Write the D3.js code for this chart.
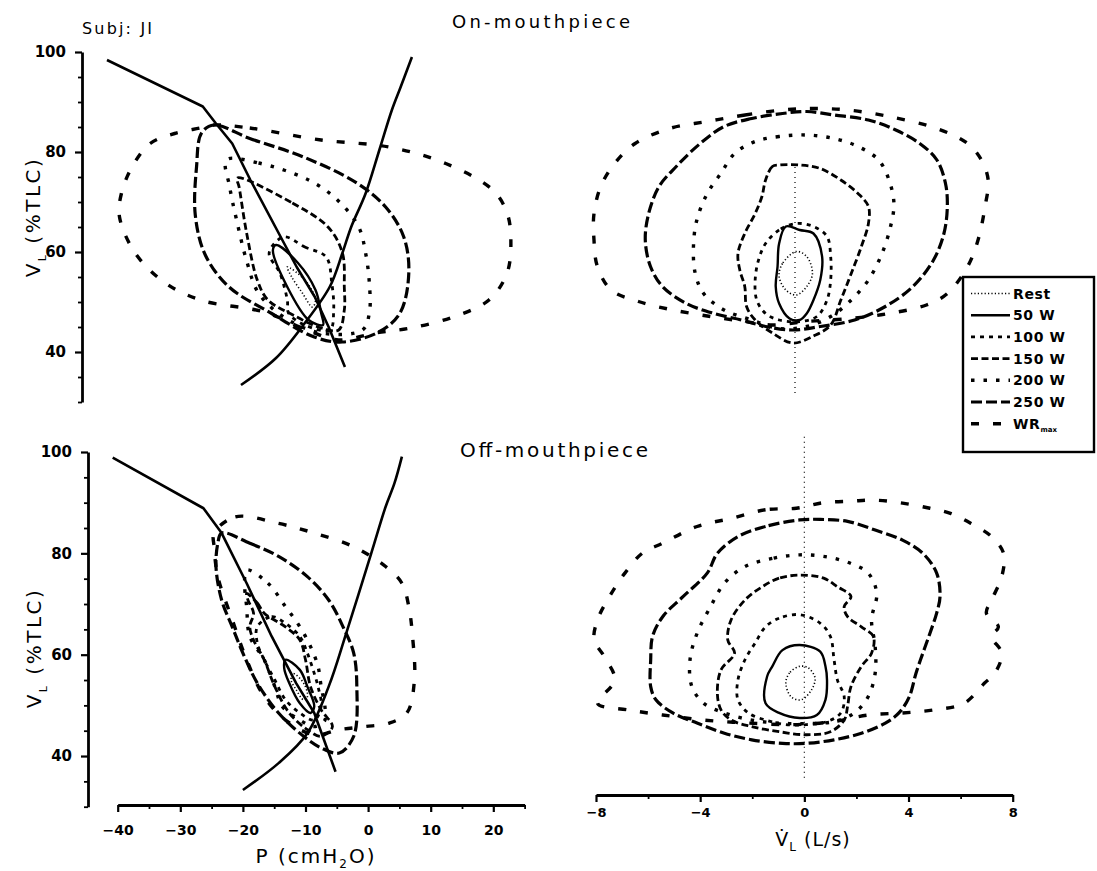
<!DOCTYPE html>
<html><head><meta charset="utf-8">
<script src="https://cdn.jsdelivr.net/npm/d3@7"></script>
<style>
body{margin:0;background:#fff;}
svg{display:block;background:#fff;}
text{fill:#000;}
</style></head><body>
<svg id="chart" width="1097" height="871"></svg>
<script>
// ---------- data ----------
const seriesLabels = ["Rest", "50 W", "100 W", "150 W", "200 W", "250 W", "WR"];
const yMajorTicks = [40, 60, 80, 100];
const yMinorTicks = [30, 35, 45, 50, 55, 65, 70, 75, 85, 90, 95];
const pMajorTicks = [-40, -30, -20, -10, 0, 10, 20];
const pMinorTicks = [-35, -25, -15, -5, 5, 15, 25];
const fMajorTicks = [-8, -4, 0, 4, 8];
const fMinorTicks = [-6, -2, 2, 6];

// On-mouthpiece, volume vs pressure loops (Rest, 50, 100, 150, 200, 250 W, WRmax)
const onPressureLoops = [
  [[-12,57],[-9.2,54.4],[-7.5,50.4],[-8,49],[-9.6,51.8],[-11.3,55]],
  [[-13.8,61.4],[-10.3,57.8],[-7.5,52.4],[-6.6,47.8],[-6.3,45.4],[-8.6,46.4],[-12,53],[-14.3,60.4]],
  [[-12.6,63],[-9.2,61],[-5.8,59],[-4.9,53.8],[-4.6,48.4],[-5.2,44.4],[-9.2,45.4],[-11.8,47.8],[-12,50.4],[-13.2,55.8],[-14.9,59.8]],
  [[-20,74.8],[-11.2,69.8],[-5.5,65],[-3.2,59.8],[-2.9,53],[-2.9,48.4],[-3.8,44.4],[-6.6,44.8],[-11.1,47.4],[-15.1,50.4],[-16.8,54.4],[-18.5,63.8],[-19.7,73]],
  [[-21.7,78.4],[-16.6,77.8],[-8.6,74.4],[-4,70.4],[-0.6,65],[0.5,59.8],[1.1,53.8],[1.1,47.8],[0,44.4],[-6.6,43.8],[-12.6,47],[-16.6,51.8],[-18.4,57.8],[-20.1,66.4],[-21.2,73]],
  [[-23.7,85.4],[-18,82.7],[-9.4,79],[-0.9,73.8],[3.7,69],[6.6,63],[7.4,55.8],[6,47.8],[2.6,44],[-3.2,42],[-7.7,43],[-14.5,47.7],[-21.3,53],[-25.1,59.4],[-26.7,67.4],[-26.5,77],[-25.7,83.8]],
  [[-23.7,85.4],[-18,84.8],[-6.6,82.4],[4.2,81],[13.3,77.7],[20.8,72.4],[23.1,67.8],[23.7,62.4],[23.1,55.8],[20.2,50.4],[14.5,47],[7.7,44.8],[2,43.8],[-3.8,42.4],[-9.4,44.7],[-15.7,48],[-25.9,50.4],[-31.7,54],[-36.3,59.8],[-38.8,67],[-38.5,71.7],[-36.8,77],[-33.9,81.7],[-30,83.7],[-25.9,84.8]]
];
const onLimitUpper = [[-40.8,98.4],[-25.5,89.1],[-23.4,85.7],[-20.8,81.7],[-17.9,74.4],[-12.8,62.4],[-10.5,57],[-7.6,51],[-5.4,45],[-2.8,37]];
const onLimitLower = [[-19.4,33.4],[-13.8,38.8],[-9.2,45.8],[-5.2,53.1],[-3.2,59.8],[-1.8,65],[0.5,71.7],[2.7,80.4],[4.7,88.4],[6.1,93],[7.9,99]];

// On-mouthpiece, volume vs flow loops
const onFlowLoops = [
  [[0.05,60.1],[-0.48,57.7],[-0.61,55.1],[-0.35,52.4],[0.05,51.4],[0.45,53.1],[0.67,55.7],[0.45,59.1]],
  [[-0.35,65.1],[-0.61,61.7],[-0.67,57.1],[-0.74,53.1],[-0.61,49.7],[-0.21,46.7],[0.18,46.4],[0.45,47.7],[0.71,50.4],[0.97,54.4],[1.04,59.1],[0.71,63.7],[0.18,64.4]],
  [[0.05,65.7],[-0.61,64.4],[-1.13,61.7],[-1.4,58.4],[-1.53,54.4],[-1.47,50.4],[-1.13,47.7],[-0.61,46.4],[0.18,46.1],[0.84,47.1],[1.23,50.4],[1.37,54.4],[1.37,59.1],[1.23,63.1],[0.71,65.1]],
  [[-0.61,77.4],[-0.87,77.1],[-1.13,74.4],[-1.27,71.1],[-1.53,67.7],[-1.93,63.7],[-2.19,59.7],[-2.12,56.4],[-1.93,53.1],[-1.86,49.1],[-1.53,46.4],[-0.87,43.8],[-0.08,41.8],[0.71,43.2],[1.37,45.4],[1.76,50.4],[2.16,55.7],[2.55,61.1],[2.82,65.7],[2.82,69.1],[2.42,71.7],[1.76,74.4],[0.97,76.7],[0.18,77.4]],
  [[0.45,83.4],[-0.61,83.1],[-1.53,82.1],[-2.32,79.7],[-2.85,75.7],[-3.37,71.7],[-3.77,66.4],[-3.9,61.1],[-3.83,55.7],[-3.51,51.7],[-2.72,48.4],[-1.66,46.4],[-0.61,44.7],[0.45,45.1],[1.37,47.1],[2.16,50.4],[2.82,54.4],[3.34,59.7],[3.67,65.1],[3.8,69.7],[3.61,74.4],[3.21,78.4],[2.42,81.1],[1.5,82.7]],
  [[-0.48,87.7],[-1.66,86.7],[-2.72,85.1],[-3.64,81.7],[-4.56,77.1],[-5.22,73.1],[-5.62,67.7],[-5.75,62.4],[-5.55,57.1],[-5.09,53.1],[-4.17,49.7],[-3.11,47.7],[-2.06,46.4],[-1.13,45.1],[-0.08,44.4],[0.97,45.1],[2.29,46.4],[3.47,49.1],[4.53,53.1],[5.32,58.4],[5.72,63.7],[5.85,69.1],[5.78,73.7],[5.45,78.4],[4.79,81.7],[3.87,84.4],[2.82,86.4],[1.5,87.4],[0.45,88.1]],
  [[-0.48,88.4],[-1.92,87.4],[-3.37,86.1],[-4.82,84.7],[-6.14,81.7],[-6.93,77.7],[-7.46,73.1],[-7.72,67.7],[-7.72,62.4],[-7.59,57.1],[-7.06,52.4],[-6.01,50.1],[-4.69,48.4],[-3.24,47.1],[-1.93,46.1],[-0.87,45.4],[0.45,46.1],[2.15,46.7],[3.61,47.7],[5.05,49.4],[5.85,51.7],[6.63,57.1],[7.03,62.4],[7.3,69.1],[7.42,74.4],[7.16,78.4],[6.63,81.7],[5.45,84.7],[3.61,87.1],[2.03,88.4],[0.71,88.7]]
];
const onFlowZeroLine = [[0,77],[0,31]];

// Off-mouthpiece, volume vs pressure loops
const offPressureLoops = [
  [[-12.0,56.3],[-10.3,54.4],[-9.7,51.7],[-10.3,51.1],[-11.5,53.1],[-12.3,55.0]],
  [[-13.2,59.0],[-10.9,57.0],[-9.7,53.7],[-8.6,49.8],[-9.2,48.5],[-10.9,50.4],[-12.6,54.4],[-13.4,57.3]],
  [[-17.7,65.5],[-15.4,67.5],[-13.2,66.2],[-10.9,63.6],[-9.7,60.3],[-8.6,56.3],[-8.0,53.7],[-7.5,49.8],[-8.6,47.1],[-10.9,48.5],[-13.2,51.1],[-14.9,55.0],[-16.6,59.0],[-17.7,62.3]],
  [[-19.4,72.1],[-17.7,70.2],[-16.6,68.2],[-13.2,65.5],[-10.9,62.9],[-10.0,59.0],[-9.2,53.7],[-7.5,49.1],[-5.7,45.8],[-7.5,43.9],[-9.7,45.2],[-12.6,48.5],[-14.9,53.7],[-16.6,59.0],[-18.3,62.9],[-18.9,65.5],[-18.3,68.2],[-19.2,70.8]],
  [[-19.4,76.7],[-16.0,74.1],[-13.2,69.5],[-10.9,65.5],[-9.2,61.6],[-8.0,57.7],[-7.5,53.7],[-6.9,49.8],[-6.9,47.1],[-8.6,45.8],[-10.9,47.1],[-13.7,49.8],[-14.9,53.7],[-16.6,59.0],[-18.9,63.6],[-19.4,69.5],[-19.7,73.4]],
  [[-23.4,84.0],[-18.9,82.0],[-14.3,79.4],[-9.7,75.4],[-6.3,70.8],[-4.0,65.5],[-2.3,60.3],[-1.8,53.7],[-2.3,43.9],[-4.6,40.6],[-7.5,41.6],[-10.3,43.9],[-14.3,48.5],[-17.7,54.4],[-20.0,60.3],[-21.7,65.5],[-23.4,70.8],[-24.3,77.4],[-24.0,82.0]],
  [[-24.6,84.0],[-21.2,87.2],[-14.3,85.9],[-8.6,84.0],[-2.3,81.3],[2.8,77.4],[5.4,74.1],[6.5,69.5],[7.1,63.6],[7.4,55.0],[6.2,48.5],[3.4,46.5],[-0.6,45.8],[-4.6,45.2],[-8.6,44.2],[-13.2,47.1],[-16.6,51.7],[-19.4,59.0],[-21.7,66.9],[-24.0,75.4],[-24.6,81.3]]
];
const offLimitUpper = [[-40.8,98.9],[-26.3,88.9],[-23.4,84.0],[-19.4,74.1],[-15.4,63.6],[-11.5,54.4],[-8.6,48.5],[-5.2,36.9]];
const offLimitLower = [[-20.0,33.3],[-14.3,38.6],[-9.7,44.5],[-6.3,53.7],[-3.5,64.2],[0.5,80.0],[2.8,89.2],[4.2,93.8],[5.4,99.1]];

// Off-mouthpiece, volume vs flow loops
const offFlowLoops = [
  [[-0.18,57.7],[-0.57,56.4],[-0.71,54.4],[-0.51,51.7],[-0.12,51.1],[0.28,53.1],[0.41,55.4],[0.15,57.4]],
  [[-0.18,61.9],[-0.84,60.9],[-1.23,57.7],[-1.43,55.7],[-1.49,50.4],[-0.97,48.5],[-0.18,47.5],[0.48,48.1],[0.81,51.1],[0.87,55.0],[0.81,57.7],[0.61,60.6]],
  [[-0.18,67.9],[-0.97,67.2],[-1.49,65.5],[-1.89,62.3],[-2.28,59.0],[-2.55,55.0],[-2.55,51.1],[-2.15,48.5],[-1.49,47.1],[-0.71,46.2],[0.08,46.2],[0.87,46.8],[1.4,48.5],[1.53,51.7],[1.27,55.0],[1.14,59.0],[1.0,63.6],[0.61,66.2]],
  [[-0.18,75.7],[-0.97,75.1],[-1.62,73.4],[-2.28,70.8],[-2.81,66.9],[-2.94,62.9],[-2.68,60.3],[-3.2,57.0],[-3.34,52.4],[-3.2,49.1],[-2.81,47.1],[-2.02,45.8],[-0.97,44.8],[0.08,44.2],[1.0,44.8],[1.53,47.1],[1.66,49.8],[1.79,53.7],[2.19,57.7],[2.58,60.3],[2.65,63.6],[2.19,65.5],[1.66,67.5],[1.53,69.5],[1.79,71.5],[1.27,73.4],[0.74,75.1]],
  [[-0.18,79.7],[-1.23,79.0],[-2.28,77.4],[-3.07,74.1],[-3.6,69.5],[-4.12,64.2],[-4.39,59.0],[-4.32,53.7],[-3.86,50.4],[-3.07,48.5],[-2.02,47.1],[-0.97,46.5],[0.08,46.4],[1.14,46.8],[1.92,48.5],[2.45,51.7],[2.72,56.4],[2.72,61.6],[2.58,66.9],[2.78,72.1],[2.45,76.1],[1.79,78.0],[0.87,79.3]],
  [[-0.18,86.6],[-1.49,85.3],[-2.55,83.3],[-3.34,80.0],[-3.73,76.1],[-4.65,71.5],[-5.44,67.5],[-5.83,63.6],[-5.9,59.0],[-5.9,53.7],[-5.7,51.1],[-5.05,48.5],[-4.12,46.5],[-3.07,44.5],[-2.02,43.2],[-0.84,42.5],[0.08,42.5],[1.14,43.2],[2.19,44.5],[3.11,46.5],[3.63,48.5],[4.03,51.7],[4.29,56.4],[4.55,60.3],[4.82,64.2],[5.08,68.2],[5.21,71.5],[5.08,76.1],[4.55,80.0],[3.77,82.6],[2.72,84.6],[1.66,86.3],[0.61,86.7]],
  [[-0.31,88.9],[-1.49,88.6],[-2.81,86.9],[-4.12,85.3],[-5.44,82.0],[-6.23,80.0],[-6.89,76.1],[-7.41,72.1],[-7.94,66.9],[-8.07,62.9],[-7.68,59.6],[-7.28,55.0],[-7.94,50.4],[-6.75,49.1],[-5.44,48.1],[-3.86,47.1],[-2.15,46.5],[-0.44,46.2],[1.14,46.8],[2.45,48.1],[3.77,48.5],[4.95,49.1],[6.13,50.4],[6.92,54.4],[7.32,56.4],[7.58,60.3],[7.19,63.6],[7.45,65.5],[6.99,68.2],[7.19,70.8],[7.58,75.4],[7.65,80.0],[7.19,83.3],[6.4,85.9],[5.61,87.9],[4.82,88.9],[3.77,89.9],[2.72,90.5],[1.79,90.3],[0.74,90.0]]
];
const offFlowZeroLine = [[0,103],[0,35]];

// ---------- styles ----------
const dashes = ["1.2,2.2", null, "4,5", "7,3.5", "3.5,9", "11,4", "8,14"];
const widths = [1.6, 2.4, 2.8, 2.8, 3.4, 3.2, 3.4];
const FONT = "'DejaVu Sans', 'Liberation Sans', sans-serif";

const svg = d3.select("#chart");

// ---------- scales ----------
const xOnP  = d3.scaleLinear().domain([-40, 25]).range([112, 519]);
const yOn   = d3.scaleLinear().domain([30, 100]).range([402, 52]);
const xOnF  = d3.scaleLinear().domain([-8, 8]).range([586.7, 1003.3]);
const xOffP = d3.scaleLinear().domain([-40, 25]).range([117.7, 524.6]);
const yOff  = d3.scaleLinear().domain([30, 100]).range([806.7, 452]);
const xOffF = d3.scaleLinear().domain([-8, 8]).range([596, 1012.7]);

function styleLine(sel, i) {
  sel.attr("fill", "none").attr("stroke", "#000")
     .attr("stroke-width", widths[i])
     .attr("stroke-dasharray", dashes[i])
     .attr("stroke-linejoin", "round");
}

function drawLoops(loops, xs, ys) {
  const g = svg.append("g");
  const gen = d3.line().x(d => xs(d[0])).y(d => ys(d[1])).curve(d3.curveCatmullRomClosed.alpha(0.5));
  loops.forEach((pts, i) => {
    g.append("path").attr("d", gen(pts)).call(styleLine, i);
  });
}
function drawOpen(pts, xs, ys, curve, w, dash) {
  const gen = d3.line().x(d => xs(d[0])).y(d => ys(d[1])).curve(curve);
  svg.append("path").attr("d", gen(pts)).attr("fill", "none").attr("stroke", "#000")
     .attr("stroke-width", w).attr("stroke-dasharray", dash).attr("stroke-linejoin", "round");
}

drawLoops(onPressureLoops, xOnP, yOn);
drawOpen(onLimitUpper, xOnP, yOn, d3.curveLinear, 2.6, null);
drawOpen(onLimitLower, xOnP, yOn, d3.curveCatmullRom, 2.6, null);
drawLoops(onFlowLoops, xOnF, yOn);
drawOpen(onFlowZeroLine, xOnF, yOn, d3.curveLinear, 1.2, "1,4");

drawLoops(offPressureLoops, xOffP, yOff);
drawOpen(offLimitUpper, xOffP, yOff, d3.curveLinear, 2.6, null);
drawOpen(offLimitLower, xOffP, yOff, d3.curveCatmullRom, 2.6, null);
drawLoops(offFlowLoops, xOffF, yOff);
drawOpen(offFlowZeroLine, xOffF, yOff, d3.curveLinear, 1.2, "1,4");

// ---------- axes ----------
function styleAxis(g, fs) {
  g.attr("font-family", FONT).attr("font-size", fs).attr("font-weight", "bold");
  g.select(".domain").attr("stroke-width", 2.8);
  g.selectAll(".tick line").attr("stroke-width", 2.2);
}
function yAxis(x, ys) {
  const gM = svg.append("g").attr("transform", `translate(${x},0)`)
    .call(d3.axisLeft(ys).tickValues(yMajorTicks).tickSize(7).tickSizeOuter(0).tickPadding(9).tickFormat(d3.format("d")));
  styleAxis(gM, 15);
  const gm = svg.append("g").attr("transform", `translate(${x},0)`)
    .call(d3.axisLeft(ys).tickValues(yMinorTicks).tickSize(4).tickFormat(""));
  gm.select(".domain").remove();
  gm.selectAll(".tick line").attr("stroke-width", 1.8);
}
function xAxis(y, xs, major, minor, pad, fs) {
  const gM = svg.append("g").attr("transform", `translate(0,${y})`)
    .call(d3.axisBottom(xs).tickValues(major).tickSize(7).tickSizeOuter(0).tickPadding(pad));
  styleAxis(gM, fs);
  const gm = svg.append("g").attr("transform", `translate(0,${y})`)
    .call(d3.axisBottom(xs).tickValues(minor).tickSize(4).tickFormat(""));
  gm.select(".domain").remove();
  gm.selectAll(".tick line").attr("stroke-width", 1.8);
}
yAxis(82, yOn);
yAxis(88, yOff);
xAxis(805, xOffP, pMajorTicks, pMinorTicks, 13, 14);
xAxis(795, xOffF, fMajorTicks, fMinorTicks, 6, 13);

// ---------- texts ----------
function label(x, y, txt, fs, opts = {}) {
  const t = svg.append("text").attr("x", x).attr("y", y).attr("font-family", FONT)
    .attr("font-size", fs).text(txt);
  if (opts.len) t.attr("textLength", opts.len);
  if (opts.anchor) t.attr("text-anchor", opts.anchor);
  if (opts.weight) t.attr("font-weight", opts.weight);
  return t;
}
label(82, 34, "Subj: JI", 16, {len: 70});
label(452, 28, "On-mouthpiece", 18, {len: 178});
label(460, 457, "Off-mouthpiece", 20, {len: 188});

// y titles
function yTitle(cx, cy) {
  const t = svg.append("text").attr("transform", `translate(${cx},${cy}) rotate(-90)`)
    .attr("text-anchor", "middle").attr("font-family", FONT).attr("font-size", 20)
    .attr("letter-spacing", 2.5);
  t.append("tspan").text("V");
  t.append("tspan").attr("font-size", 11).attr("dy", 6).text("L");
  t.append("tspan").attr("dy", -6).text(" (%TLC)");
}
yTitle(40, 217);
yTitle(41, 648);

// x titles
{
  const t = svg.append("text").attr("x", 316).attr("y", 863).attr("text-anchor", "middle")
    .attr("font-family", FONT).attr("font-size", 20).attr("letter-spacing", 2);
  t.append("tspan").text("P (cmH");
  t.append("tspan").attr("font-size", 12).attr("dy", 5).text("2");
  t.append("tspan").attr("dy", -5).text("O)");
}
{
  const t = svg.append("text").attr("x", 813).attr("y", 846).attr("text-anchor", "middle")
    .attr("font-family", FONT).attr("font-size", 19).attr("letter-spacing", 1);
  t.append("tspan").text("V\u0307");
  t.append("tspan").attr("font-size", 12).attr("dy", 5).text("L");
  t.append("tspan").attr("dy", -5).text(" (L/s)");
}

// ---------- legend ----------
const lg = svg.append("g");
lg.append("rect").attr("x", 963).attr("y", 277).attr("width", 131).attr("height", 175)
  .attr("fill", "#fff").attr("stroke", "#000").attr("stroke-width", 2.4);
seriesLabels.forEach((name, i) => {
  const y = 293.5 + i * 21.7;
  lg.append("line").attr("x1", 971).attr("x2", 1010).attr("y1", y).attr("y2", y).call(styleLine, i);
  const t = lg.append("text").attr("x", 1013).attr("y", y).attr("dy", "0.36em")
    .attr("font-family", FONT).attr("font-size", 14).attr("font-weight", "bold")
    .attr("letter-spacing", 0.6).text(name);
  if (i === 6) t.append("tspan").attr("font-size", 7).attr("dy", 3).attr("letter-spacing", 0).text("max");
});
</script>
</body></html>
